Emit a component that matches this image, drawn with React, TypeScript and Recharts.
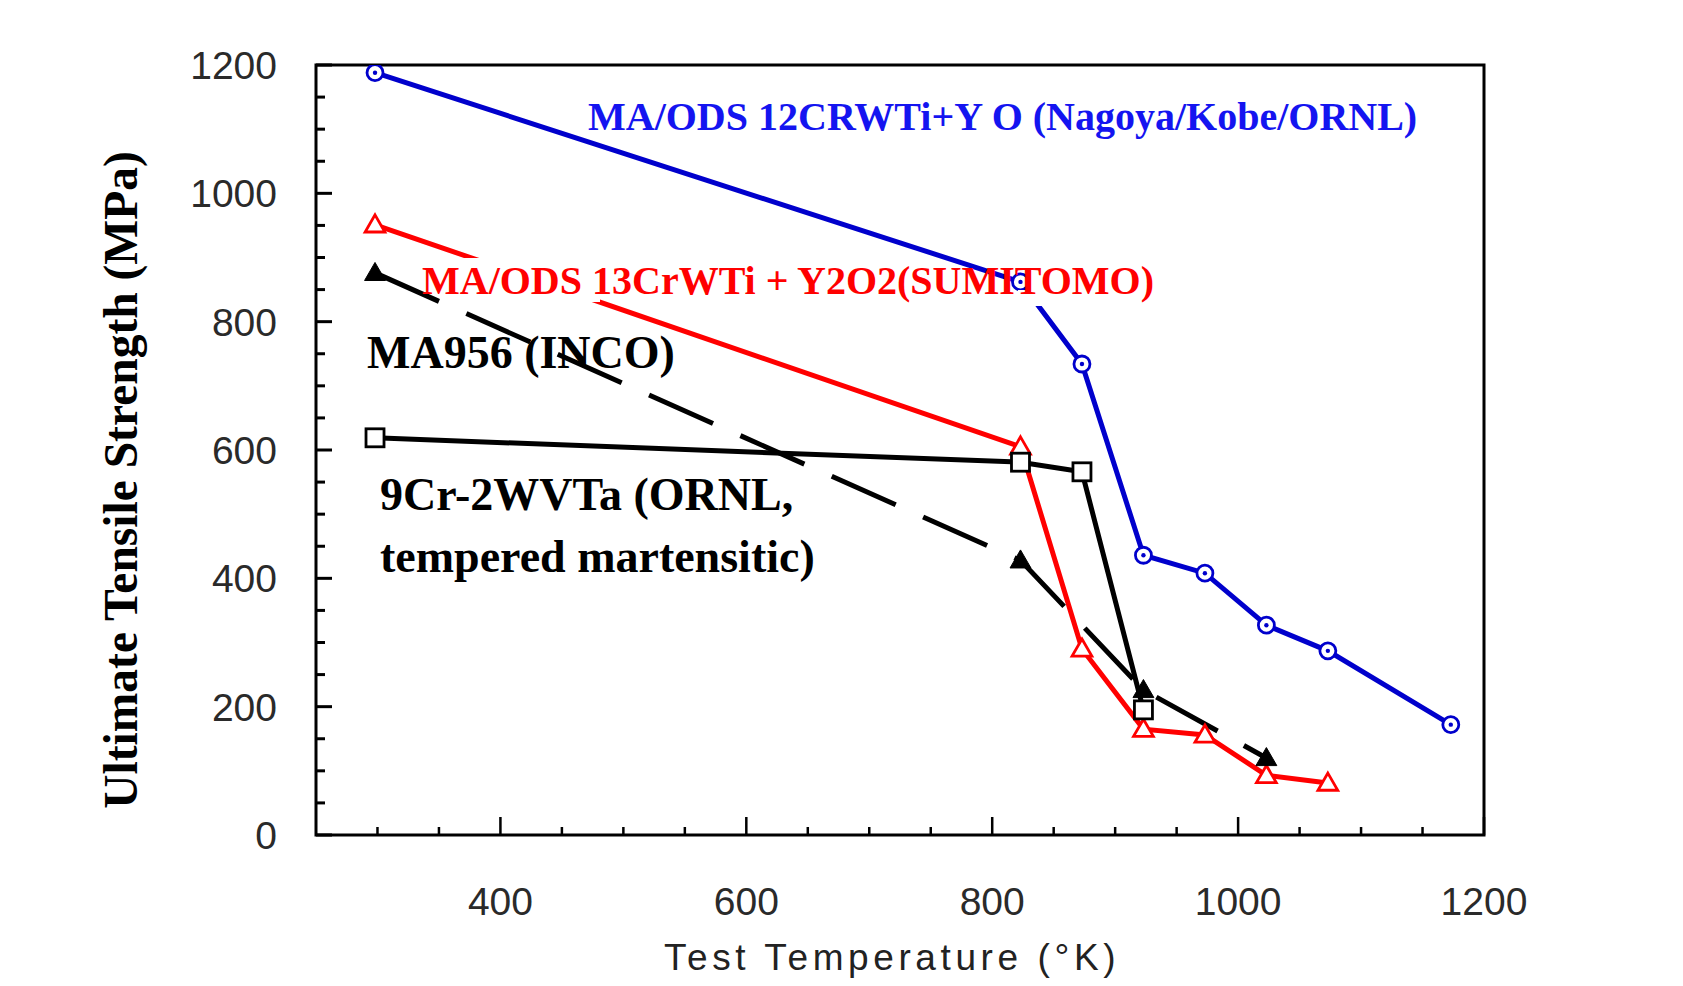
import React from "react";
import { LineChart, Line, XAxis, YAxis, ReferenceArea } from "recharts";

// temperatures (K) and ultimate tensile strength (MPa)
const tempsOds12 = [298, 823, 873, 923, 973, 1023, 1073, 1173];
const utsOds12 = [1188, 862, 734, 436, 408, 327, 287, 172];

const tempsOds13 = [298, 823, 873, 923, 973, 1023, 1073];
const utsOds13 = [951, 605, 290, 165, 156, 93, 81];

const tempsMa956 = [298, 823, 923, 1023];
const utsMa956 = [876, 428, 226, 120];

const temps9Cr = [298, 823, 873, 923];
const uts9Cr = [619, 581, 566, 195];

const xMajorTicks = [400, 600, 800, 1000, 1200];
const xMinorTicks = [300, 350, 450, 500, 550, 650, 700, 750, 850, 900, 950, 1050, 1100, 1150];
const yMajorTicks = [0, 200, 400, 600, 800, 1000, 1200];
const yMinorTicks = [50, 100, 150, 250, 300, 350, 450, 500, 550, 650, 700, 750, 850, 900, 950, 1050, 1100, 1150];

const toPoints = (ts: number[], vs: number[]) => ts.map((t, i) => ({ t, v: vs[i] }));

const W = 1667;
const H = 970;
const PLOT_LEFT = 308;
const PLOT_TOP = 57;
const PLOT_RIGHT = 1476;
const PLOT_BOTTOM = 827;

const tickFont = "'Liberation Sans', Arial, sans-serif";
const serif = "'Liberation Serif', 'Times New Roman', serif";

const YTick = (props: any) => {
  const { x, y, payload } = props;
  const major = yMajorTicks.includes(payload.value);
  return (
    <g>
      <line x1={x} x2={x + (major ? 16 : 9)} y1={y} y2={y} stroke="#000" strokeWidth={3} />
      {major && (
        <text x={x - 39} y={y} dy="0.36em" textAnchor="end" fontSize={39} fontFamily={tickFont} fill="#2a2a2a">
          {payload.value}
        </text>
      )}
    </g>
  );
};

const XTick = (props: any) => {
  const { x, y, payload } = props;
  const major = xMajorTicks.includes(payload.value);
  return (
    <g>
      <line x1={x} x2={x} y1={y} y2={y - (major ? 18 : 8)} stroke="#000" strokeWidth={2.5} />
      {major && (
        <text x={x} y={y + 66} dy="0.36em" textAnchor="middle" fontSize={39} fontFamily={tickFont} fill="#2a2a2a">
          {payload.value}
        </text>
      )}
    </g>
  );
};

const CircleDot = (props: any) => {
  const { cx, cy, index } = props;
  return (
    <g key={`c${index}`}>
      <circle cx={cx} cy={cy} r={8} fill="#fff" stroke="#0000cc" strokeWidth={2.8} />
      <circle cx={cx} cy={cy} r={2.2} fill="#0000cc" />
    </g>
  );
};

const triPath = (cx: number, cy: number, s: number) =>
  `M${cx},${cy - s * 0.55} L${cx + s * 0.55},${cy + s * 0.4} L${cx - s * 0.55},${cy + s * 0.4} Z`;

const OpenTriangle = (props: any) => {
  const { cx, cy, index } = props;
  return <path key={`t${index}`} d={triPath(cx, cy, 18)} fill="#fff" stroke="#ff0000" strokeWidth={2.8} />;
};

const FilledTriangle = (props: any) => {
  const { cx, cy, index } = props;
  return <path key={`f${index}`} d={triPath(cx, cy, 19)} fill="#000" stroke="#000" strokeWidth={1} />;
};

const OpenSquare = (props: any) => {
  const { cx, cy, index } = props;
  return <rect key={`s${index}`} x={cx - 9} y={cy - 9} width={18} height={18} fill="#fff" stroke="#000" strokeWidth={2.8} />;
};

export default function App() {
  return (
    <div style={{ position: "relative", width: W, height: H, background: "#fff" }}>
      <LineChart
        width={W}
        height={H}
        margin={{ top: PLOT_TOP, right: W - PLOT_RIGHT, bottom: 0, left: 0 }}
      >
        <XAxis
          xAxisId={0}
          type="number"
          dataKey="t"
          domain={[250, 1200]}
          ticks={[...xMinorTicks, ...xMajorTicks]}
          interval={0}
          allowDataOverflow
          height={H - PLOT_BOTTOM}
          tickSize={0}
          tickMargin={0}
          axisLine={false}
          tick={<XTick />}
        />
        <YAxis
          yAxisId={0}
          type="number"
          domain={[0, 1200]}
          ticks={[...yMinorTicks, ...yMajorTicks]}
          interval={0}
          allowDataOverflow
          width={PLOT_LEFT}
          tickSize={0}
          tickMargin={0}
          axisLine={false}
          tick={<YTick />}
        />
        <ReferenceArea x1={250} x2={1200} y1={0} y2={1200} fill="none" stroke="#000" strokeWidth={3} ifOverflow="visible" />
        <Line
          data={toPoints(tempsOds12, utsOds12)}
          dataKey="v"
          stroke="#0000cc"
          strokeWidth={5}
          dot={CircleDot}
          activeDot={false}
          isAnimationActive={false}
        />
        <Line
          data={toPoints(tempsOds13, utsOds13)}
          dataKey="v"
          stroke="#ff0000"
          strokeWidth={5}
          dot={OpenTriangle}
          activeDot={false}
          isAnimationActive={false}
        />
        <Line
          data={toPoints(tempsMa956, utsMa956)}
          dataKey="v"
          stroke="#000"
          strokeWidth={5}
          strokeDasharray="70 30"
          dot={FilledTriangle}
          activeDot={false}
          isAnimationActive={false}
        />
        <Line
          data={toPoints(temps9Cr, uts9Cr)}
          dataKey="v"
          stroke="#000"
          strokeWidth={5}
          dot={OpenSquare}
          activeDot={false}
          isAnimationActive={false}
        />
      </LineChart>
      <svg width={W} height={H} style={{ position: "absolute", left: 0, top: 0, pointerEvents: "none" }}>
        <text x={580} y={122} fontFamily={serif} fontWeight="bold" fontSize={40} fill="#1414f0">
          MA/ODS 12CRWTi+Y O (Nagoya/Kobe/ORNL)
        </text>
        {/* the label box of the Sumitomo caption hides the lines running under it */}
        <rect x={432} y={250} width={160} height={44} fill="#fff" />
        <rect x={1010} y={282} width={30} height={16} fill="#fff" />
        <text x={414} y={286} fontFamily={serif} fontWeight="bold" fontSize={40} fill="#ff0000">
          MA/ODS 13CrWTi + Y2O2(SUMITOMO)
        </text>
        <text x={359} y={360} fontFamily={serif} fontWeight="bold" fontSize={46} fill="#000">
          MA956 (INCO)
        </text>
        <text x={372} y={502} fontFamily={serif} fontWeight="bold" fontSize={46} fill="#000">
          9Cr-2WVTa (ORNL,
        </text>
        <text x={372} y={564} fontFamily={serif} fontWeight="bold" fontSize={46} fill="#000">
          tempered martensitic)
        </text>
        <text
          x={129}
          y={472}
          transform="rotate(-90, 129, 472)"
          textAnchor="middle"
          fontFamily={serif}
          fontWeight="bold"
          fontSize={47.5}
          fill="#000"
        >
          Ultimate Tensile Strength (MPa)
        </text>
        <text x={884} y={962} textAnchor="middle" fontFamily={tickFont} fontSize={37} letterSpacing={4.6} fill="#222">
          Test Temperature (°K)
        </text>
      </svg>
    </div>
  );
}
